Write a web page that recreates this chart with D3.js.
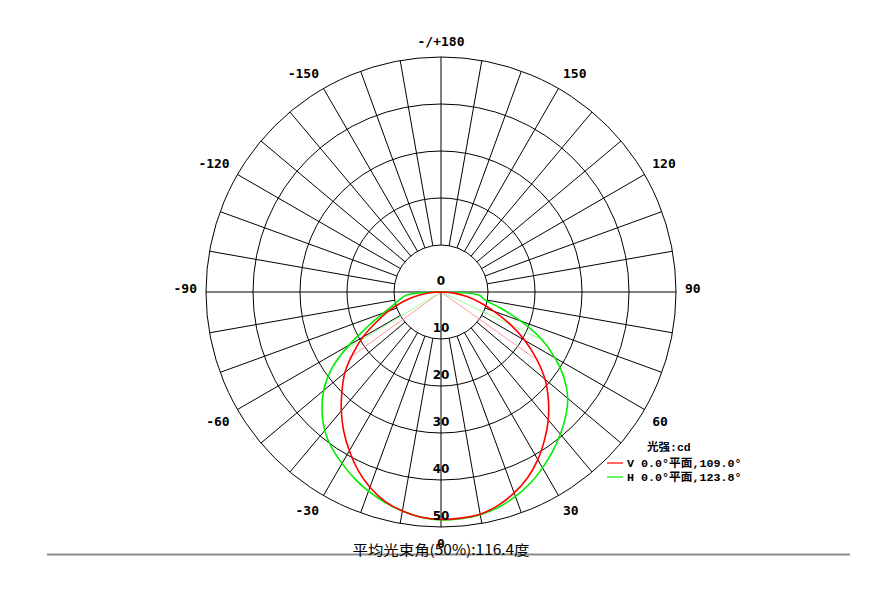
<!DOCTYPE html>
<html>
<head>
<meta charset="utf-8">
<script src="https://cdnjs.cloudflare.com/ajax/libs/d3/7.8.5/d3.min.js"></script>
<style>
  html, body { margin: 0; padding: 0; background: #ffffff; }
  svg { display: block; }
</style>
</head>
<body>
<svg id="chart" width="877" height="610"></svg>
<script>
// ---------- data ----------
const angles = [-90,-85,-80,-75,-70,-65,-60,-55,-50,-45,-40,-35,-30,-25,-20,-15,-10,-5,0,
                5,10,15,20,25,30,35,40,45,50,55,60,65,70,75,80,85,90];
const vValues = [0,3.0,5.8,8.8,12.0,15.2,19.2,22.9,26.7,29.8,33.0,36.1,39.0,41.8,44.2,46.1,47.3,48.1,48.4,
                 48.3,48.0,47.0,45.5,43.6,41.2,38.4,35.5,32.3,28.9,24.8,20.6,16.2,12.0,8.6,5.6,2.8,0];
const hValues = [0,7.3,8.8,10.4,13.0,17.0,22.6,28.4,32.6,35.8,38.5,40.5,42.1,43.7,45.1,46.3,47.3,48.1,48.5,
                 48.4,48.1,47.4,46.3,44.9,43.2,41.4,39.5,37.5,35.2,32.0,28.0,23.5,18.0,13.0,9.4,8.3,0];
const vHalfAngles = [-54.3, 54.7];
const hHalfAngles = [-59.0, 64.8];
const ringValues = [10, 20, 30, 40, 50];
const ringLabels = ["10", "20", "30", "40", "50"];
const angleTicks = [180, 150, 120, 90, 60, 30, 0, -30, -60, -90, -120, -150];
const angleTickLabels = ["-/+180", "150", "120", "90", "60", "30", "0", "-30", "-60", "-90", "-120", "-150"];
const seriesNames = ["V 0.0°平面,109.0°", "H 0.0°平面,123.8°"];
const legendTitle = "光强:cd";
const chartTitle = "平均光束角(50%):116.4度";

// ---------- layout ----------
const cx = 441, cy = 292;
const svg = d3.select("#chart");
const r = d3.scaleLinear().domain([0, 50]).range([0, 235]);
// 0° at bottom, +90 to the right, ±180 at top. lineRadial angle: 0 = up, clockwise.
const a = d3.scaleLinear().domain([-180, 180]).range([2 * Math.PI, 0]);
const px = (deg, val) => cx + r(val) * Math.sin(a(deg));
const py = (deg, val) => cy - r(val) * Math.cos(a(deg));

const g = svg.append("g");

// rings
g.selectAll("circle.ring").data(ringValues).join("circle")
  .attr("cx", cx).attr("cy", cy).attr("r", d => r(d))
  .attr("fill", "none").attr("stroke", "#000").attr("stroke-width", 1);

// spokes from inner ring to outer ring
const spokes = d3.range(-170, 190, 10).filter(d => d !== 90 && d !== -90 && d !== 0);
g.selectAll("line.spoke").data(spokes).join("line")
  .attr("x1", d => px(d, 10)).attr("y1", d => py(d, 10))
  .attr("x2", d => px(d, 50)).attr("y2", d => py(d, 50))
  .attr("stroke", "#000").attr("stroke-width", 1);
// horizontal diameter and downward axis
g.append("line").attr("x1", px(-90, 50)).attr("y1", py(-90, 50)).attr("x2", px(90, 50)).attr("y2", py(90, 50))
  .attr("stroke", "#000").attr("stroke-width", 1);
g.append("line").attr("x1", px(0, 0)).attr("y1", py(0, 0)).attr("x2", px(0, 50)).attr("y2", py(0, 50))
  .attr("stroke", "#000").attr("stroke-width", 1);

// half-intensity lines
const maxV = d3.max(vValues), maxH = d3.max(hValues);
vHalfAngles.forEach(d => {
  g.append("line").attr("x1", cx).attr("y1", cy)
    .attr("x2", px(d, maxV / 2)).attr("y2", py(d, maxV / 2))
    .attr("stroke", "#ff9a9a").attr("stroke-width", 1);
});
hHalfAngles.forEach(d => {
  g.append("line").attr("x1", cx).attr("y1", cy)
    .attr("x2", px(d, maxH / 2)).attr("y2", py(d, maxH / 2))
    .attr("stroke", "#9aff9a").attr("stroke-width", 1);
});

// curves
const line = d3.lineRadial()
  .angle(d => a(d[0])).radius(d => r(d[1]))
  .curve(d3.curveCatmullRom.alpha(0.5));
const curveG = g.append("g").attr("transform", `translate(${cx},${cy})`);
curveG.append("path").datum(angles.map((d, i) => [d, hValues[i]]))
  .attr("d", line).attr("fill", "none").attr("stroke", "#00ee00").attr("stroke-width", 1.6);
curveG.append("path").datum(angles.map((d, i) => [d, vValues[i]]))
  .attr("d", line).attr("fill", "none").attr("stroke", "#ff0000").attr("stroke-width", 1.6);

// ring labels
const labelFont = "'DejaVu Sans', sans-serif";
g.selectAll("text.ring").data([0].concat(ringValues)).join("text")
  .attr("x", cx).attr("y", d => cy + r(d) - 7)
  .attr("text-anchor", "middle")
  .attr("font-family", labelFont).attr("font-weight", "bold").attr("font-size", 12)
  .attr("fill", "#000")
  .text((d, i) => i === 0 ? "0" : ringLabels[i - 1]);

// angle labels: anchored just outside the outer ring, pushed away from centre
const labelR = r(50) + 9;
g.selectAll("text.ang").data(angleTicks).join("text")
  .each(function(d, i) {
    const s = Math.sin(a(d)), c = Math.cos(a(d));
    const anchor = s > 0.01 ? "start" : (s < -0.01 ? "end" : "middle");
    const x = cx + labelR * s;
    let yc = cy - labelR * c;
    if (c > 0.01) yc -= 7; else if (c < -0.01) yc += 7; else yc -= 4;
    d3.select(this).attr("x", x).attr("y", yc + 4.5).attr("text-anchor", anchor);
  })
  .attr("font-family", "'DejaVu Sans Mono', monospace").attr("font-weight", "bold").attr("font-size", 13)
  .attr("fill", "#000")
  .text((d, i) => angleTickLabels[i]);

// legend
const lg = svg.append("g");
lg.append("text").attr("x", 647).attr("y", 451)
  .attr("font-family", "'Liberation Mono', 'Noto Sans CJK SC', monospace").attr("font-weight", "bold").attr("font-size", 11.5)
  .text(legendTitle);
const legColors = ["#ff0000", "#00ee00"];
seriesNames.forEach((s, i) => {
  const y = 463 + i * 14;
  lg.append("line").attr("x1", 607).attr("x2", 623).attr("y1", y).attr("y2", y)
    .attr("stroke", legColors[i]).attr("stroke-width", 1.2);
  lg.append("text").attr("x", 627).attr("y", y + 4)
    .attr("font-family", "'Liberation Mono', 'Noto Sans CJK SC', monospace").attr("font-size", 11.7)
    .attr("font-weight", "bold")
    .text(s);
});

// bottom rule and title
svg.append("line").attr("x1", 47).attr("x2", 850).attr("y1", 554.5).attr("y2", 554.5)
  .attr("stroke", "#8c8c8c").attr("stroke-width", 2);
svg.append("text").attr("x", 441).attr("y", 555)
  .attr("text-anchor", "middle")
  .attr("font-family", "'Noto Sans CJK SC', sans-serif").attr("font-size", 14)
  .attr("textLength", 177).attr("lengthAdjust", "spacingAndGlyphs")
  .text(chartTitle);
</script>
</body>
</html>
